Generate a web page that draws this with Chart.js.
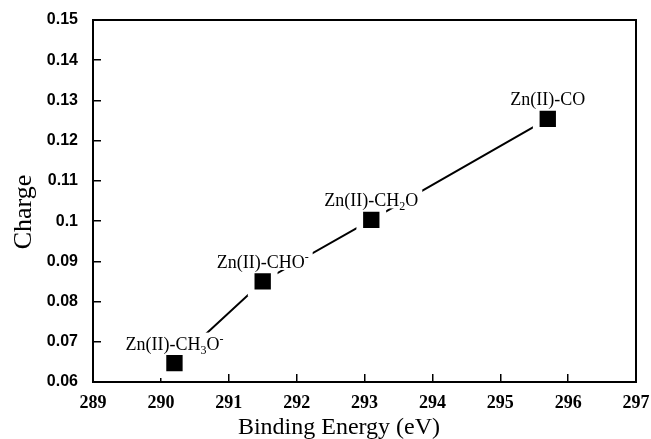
<!DOCTYPE html>
<html>
<head>
<meta charset="utf-8">
<script src="https://cdn.jsdelivr.net/npm/chart.js@4/dist/chart.umd.min.js"></script>
<style>
  html, body { margin: 0; padding: 0; background: #fff; }
  #wrap { width: 651px; height: 439px; }
</style>
</head>
<body>
<div id="wrap"><canvas id="chart"></canvas></div>
<script>
// values
const bindingEnergy = [290.2, 291.5, 293.1, 295.7]
const charge = [0.0647, 0.085, 0.1003, 0.1254]
// "_x" is a subscript, "^x" a superscript
const speciesNames = ["Zn(II)-CH_3O^-", "Zn(II)-CHO^-", "Zn(II)-CH_2O", "Zn(II)-CO"]

const xTicks = [289, 290, 291, 292, 293, 294, 295, 296, 297]
const yTickLabels = ["0.06", "0.07", "0.08", "0.09", "0.1", "0.11", "0.12", "0.13", "0.14", "0.15"]

const xTitle = "Binding Energy (eV)"
const yTitle = "Charge"

const serif = "'Liberation Serif', 'Times New Roman', serif"
const sans = "'Liberation Sans', Arial, sans-serif"

const splitName = (name) => {
    const parts = []
    let buf = ""
    for (let i = 0; i < name.length; i++) {
        const c = name[i]
        if ((c === "_" || c === "^") && i + 1 < name.length) {
            if (buf) parts.push({ t: buf, kind: "n" })
            buf = ""
            parts.push({ t: name[i + 1], kind: c === "_" ? "sub" : "sup" })
            i++
        } else {
            buf += c
        }
    }
    if (buf) parts.push({ t: buf, kind: "n" })
    return parts
}

const partFont = (kind) => kind === "n" ? `18px ${serif}` : `12px ${serif}`

const pointLabels = {
    id: "pointLabels",
    afterDatasetsDraw(chart) {
        const ctx = chart.ctx
        const meta = chart.getDatasetMeta(0)
        ctx.save()
        ctx.textBaseline = "alphabetic"
        ctx.textAlign = "left"
        meta.data.forEach((pt, i) => {
            const parts = splitName(speciesNames[i])
            const widths = parts.map(p => { ctx.font = partFont(p.kind); return ctx.measureText(p.t).width })
            const total = widths.reduce((a, b) => a + b, 0)
            const base = pt.y - 13.5
            let x = pt.x - total / 2
            ctx.fillStyle = "#fff"
            ctx.fillRect(x - 4, base - 17, total + 8, 19)
            ctx.fillStyle = "#000"
            parts.forEach((p, k) => {
                ctx.font = partFont(p.kind)
                const dy = p.kind === "sub" ? 4 : p.kind === "sup" ? -7 : 0
                ctx.fillText(p.t, x, base + dy)
                x += widths[k]
            })
        })
        ctx.restore()
    }
}

const frameAndTitles = {
    id: "frameAndTitles",
    afterDraw(chart) {
        const { ctx, chartArea: a } = chart
        ctx.save()
        ctx.strokeStyle = "#000"
        ctx.lineWidth = 2
        ctx.strokeRect(a.left, a.top, a.right - a.left, a.bottom - a.top)

        ctx.fillStyle = "#000"
        ctx.font = `24px ${serif}`
        ctx.textAlign = "center"
        ctx.textBaseline = "alphabetic"
        ctx.fillText(xTitle, 339, 434)

        ctx.translate(31, 212)
        ctx.rotate(-Math.PI / 2)
        ctx.font = `26px ${serif}`
        ctx.fillText(yTitle, 0, 0)
        ctx.restore()
    }
}

new Chart(document.getElementById("chart"), {
    type: "scatter",
    data: {
        datasets: [{
            data: bindingEnergy.map((x, i) => ({ x, y: charge[i] })),
            showLine: true,
            borderColor: "#000",
            borderWidth: 2,
            pointStyle: "rect",
            pointRadius: 16.3,
            pointBackgroundColor: "#000",
            pointBorderColor: "#fff",
            pointBorderWidth: 6.7
        }]
    },
    options: {
        responsive: true,
        maintainAspectRatio: false,
        animation: false,
        events: [],
        layout: { autoPadding: false, padding: { top: 20, right: 15, left: 0, bottom: 0 } },
        plugins: { legend: { display: false }, tooltip: { enabled: false } },
        scales: {
            x: {
                type: "linear",
                min: xTicks[0],
                max: xTicks[xTicks.length - 1],
                afterBuildTicks: (scale) => { scale.ticks = xTicks.map(value => ({ value })) },
                afterFit: (scale) => {
                    scale.height = 57
                    scale.paddingLeft = 0
                    scale.paddingRight = 0
                },
                border: { display: true, color: "#000", width: 2 },
                grid: { drawOnChartArea: false, drawTicks: true, tickLength: -8, color: "#000", lineWidth: 1.5 },
                ticks: { color: "#000", font: { family: serif, size: 18, weight: "bold" }, padding: 19, maxRotation: 0 }
            },
            y: {
                min: 0.06,
                max: 0.15,
                afterBuildTicks: (scale) => { scale.ticks = yTickLabels.map(l => ({ value: parseFloat(l) })) },
                afterFit: (scale) => {
                    scale.width = 93
                    scale.paddingTop = 0
                    scale.paddingBottom = 0
                },
                border: { display: true, color: "#000", width: 2 },
                grid: { drawOnChartArea: false, drawTicks: true, tickLength: -8, color: "#000", lineWidth: 1.5 },
                ticks: {
                    color: "#000",
                    font: { family: sans, size: 16, weight: "bold" },
                    padding: 23,
                    callback: (value, index) => yTickLabels[index]
                }
            }
        }
    },
    plugins: [pointLabels, frameAndTitles]
})
</script>
</body>
</html>
